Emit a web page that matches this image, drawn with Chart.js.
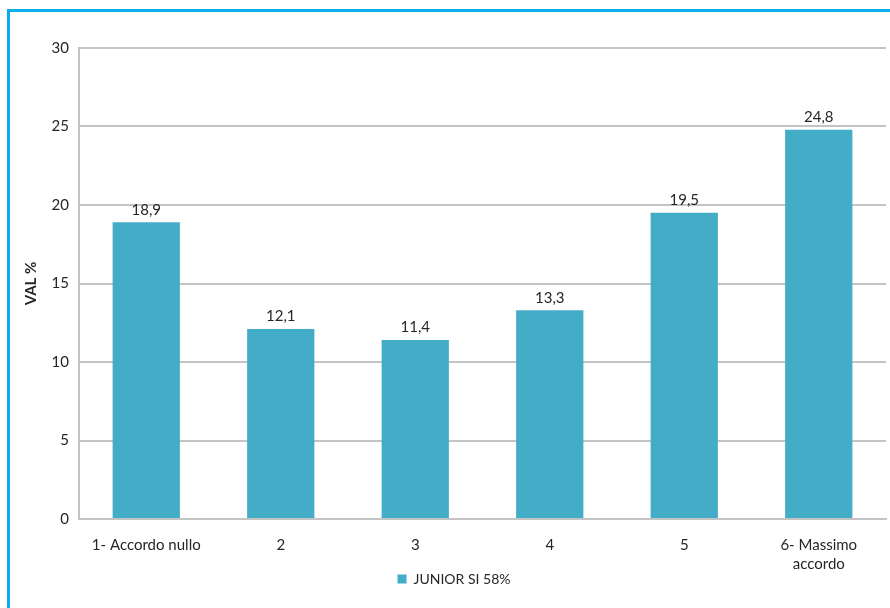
<!DOCTYPE html>
<html>
<head>
<meta charset="utf-8">
<script src="https://cdn.jsdelivr.net/npm/chart.js@4/dist/chart.umd.min.js"></script>
<style>
  html, body { margin: 0; padding: 0; background: #fff; overflow: hidden; }
  .frame {
    position: absolute; left: 7px; top: 9px; width: 900px; height: 620px;
    border: 3px solid #0aaeea; box-sizing: border-box;
  }
  .wrap { position: absolute; left: 0; top: 0; width: 890px; height: 608px; }
</style>
</head>
<body>
<div class="frame"></div>
<div class="wrap"><canvas id="chart" width="890" height="608"></canvas></div>
<script>
// categories and values
const categories = ['1- Accordo nullo', '2', '3', '4', '5', ['6- Massimo', 'accordo']];
const juniorValues = [18.9, 12.1, 11.4, 13.3, 19.5, 24.8];
const seriesLabel = 'JUNIOR SI 58%';
const yTicks = [0, 5, 10, 15, 20, 25, 30];

const FONT = 'Lato, "Open Sans", sans-serif';
const BAR_COLOR = '#43acc6';

// draws the value above each bar, with a comma as decimal mark
const valueLabels = {
    id: 'valueLabels',
    afterDatasetsDraw(chart) {
        const ctx = chart.ctx;
        const meta = chart.getDatasetMeta(0);
        ctx.save();
        ctx.font = '15px ' + FONT;
        ctx.fillStyle = '#262626';
        ctx.textAlign = 'center';
        ctx.textBaseline = 'bottom';
        meta.data.forEach((bar, i) => {
            const txt = juniorValues[i].toFixed(1).replace('.', ',');
            ctx.fillText(txt, bar.x, bar.y - 5);
        });
        ctx.restore();
    }
};

new Chart(document.getElementById('chart'), {
    type: 'bar',
    data: {
        labels: categories,
        datasets: [{
            label: seriesLabel,
            data: juniorValues,
            backgroundColor: BAR_COLOR,
            borderWidth: 0,
            categoryPercentage: 1.0,
            barPercentage: 0.5
        }]
    },
    options: {
        responsive: false,
        animation: false,
        layout: { padding: { top: 48, right: 4, left: 22, bottom: 12 } },
        plugins: {
            tooltip: { enabled: false },
            legend: {
                position: 'bottom',
                labels: {
                    color: '#262626',
                    font: { family: FONT, size: 14 },
                    boxWidth: 9,
                    boxHeight: 9,
                    padding: 0
                }
            }
        },
        scales: {
            x: {
                grid: { display: false, drawTicks: false },
                border: { color: '#c4c4c4', width: 2 },
                afterFit(scale) {
                    scale.height = 53;
                },
                ticks: {
                    color: '#262626',
                    font: { family: FONT, size: 15, lineHeight: 1.3 },
                    padding: 16,
                    maxRotation: 0
                }
            },
            y: {
                min: 0,
                max: 30,
                afterBuildTicks(scale) {
                    scale.ticks = yTicks.map(v => ({ value: v }));
                },
                afterFit(scale) {
                    scale.width = 57;
                },
                title: {
                    display: true,
                    text: 'VAL %',
                    color: '#262626',
                    font: { family: FONT, size: 15, weight: 'bold' },
                    padding: 0
                },
                grid: { color: '#c4c4c4', lineWidth: 2, drawTicks: false },
                border: { color: '#c4c4c4', width: 2 },
                ticks: {
                    color: '#262626',
                    font: { family: FONT, size: 15 },
                    padding: 10
                }
            }
        }
    },
    plugins: [valueLabels]
});
</script>
</body>
</html>
